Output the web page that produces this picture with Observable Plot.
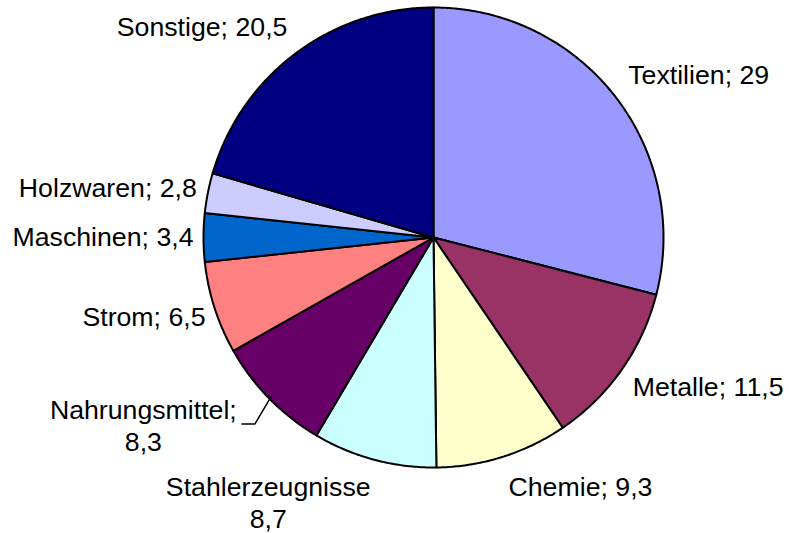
<!DOCTYPE html>
<html>
<head>
<meta charset="utf-8">
<script src="https://cdn.jsdelivr.net/npm/d3@7"></script>
<script src="https://cdn.jsdelivr.net/npm/@observablehq/plot@0.6"></script>
<style>
  html, body { margin: 0; padding: 0; background: #fff; }
  svg { display: block; }
</style>
</head>
<body>
<div id="chart"></div>
<script>
const categories = ["Textilien", "Metalle", "Chemie", "Stahlerzeugnisse", "Nahrungsmittel", "Strom", "Maschinen", "Holzwaren", "Sonstige"];
const values = [29, 11.5, 9.3, 8.7, 8.3, 6.5, 3.4, 2.8, 20.5];
const colors = ["#9999FF", "#993366", "#FFFFCC", "#CCFFFF", "#660066", "#FF8080", "#0066CC", "#CCCCFF", "#000080"];
const labelTexts = ["Textilien; 29", "Metalle; 11,5", "Chemie; 9,3", "Stahlerzeugnisse\n8,7", "Nahrungsmittel;\n8,3", "Strom; 6,5", "Maschinen; 3,4", "Holzwaren; 2,8", "Sonstige; 20,5"];

// layout (pixel offsets from slice edge at mid-angle), kept apart from data
const labelLayout = [
  {anchor: "start", dx: 13, dy: -13},
  {anchor: "start", dx: 11, dy: 26},
  {anchor: "start", dx: 6, dy: 39},
  {anchor: "middle", dx: -106, dy: 68},
  {anchor: "middle", dx: -126, dy: 52},
  {anchor: "end", dx: -9, dy: 18},
  {anchor: "end", dx: -10, dy: 8},
  {anchor: "end", dx: -11, dy: 4},
  {anchor: "end", dx: -8, dy: -18}
];

const R = 230; // pixel radius, used to convert px offsets to data units
const pie = d3.pie().sort(null).value(d => d.value)(categories.map((name, i) => ({name, value: values[i]})));

const slicePts = [];
pie.forEach(a => {
  const name = a.data.name;
  slicePts.push({name, x: 0, y: 0});
  const n = Math.max(2, Math.ceil((a.endAngle - a.startAngle) / (Math.PI / 360)));
  for (let k = 0; k <= n; k++) {
    const t = a.startAngle + (a.endAngle - a.startAngle) * k / n;
    slicePts.push({name, x: Math.sin(t), y: Math.cos(t)});
  }
  slicePts.push({name, x: 0, y: 0});
});

const labels = pie.map((a, i) => {
  const m = (a.startAngle + a.endAngle) / 2;
  return {text: labelTexts[i], x: Math.sin(m), y: Math.cos(m), ...labelLayout[i]};
});

// leader line for Nahrungsmittel
const ni = categories.indexOf("Nahrungsmittel");
const nm = (pie[ni].startAngle + pie[ni].endAngle) / 2;
const ex = Math.sin(nm) * 0.99, ey = Math.cos(nm) * 0.99;
const leader = [
  {x: ex, y: ey},
  {x: ex - 16 / R, y: ey - 27 / R},
  {x: ex - 29 / R, y: ey - 27 / R}
];

const chart = Plot.plot({
  width: 789,
  height: 533,
  marginLeft: 203,
  marginRight: 126,
  marginTop: 7,
  marginBottom: 66,
  x: {domain: [-1, 1], axis: null},
  y: {domain: [-1, 1], axis: null},
  color: {domain: categories, range: colors},
  style: {background: "#fff", fontFamily: "'Liberation Sans', Arial, sans-serif"},
  marks: [
    Plot.line(slicePts, {x: "x", y: "y", z: "name", fill: "name", stroke: "black", strokeWidth: 2, strokeLinejoin: "round", curve: "linear"}),
    Plot.line(leader, {x: "x", y: "y", stroke: "black", strokeWidth: 1.5}),
    ...labels.map(l => Plot.text([l], {
      x: "x", y: "y", text: "text",
      textAnchor: l.anchor, lineAnchor: "bottom", lineHeight: 1.2,
      dx: l.dx, dy: l.dy,
      fontSize: 26.7, fill: "black",
      fontFamily: "'Liberation Sans', Arial, sans-serif"
    }))
  ]
});
document.getElementById("chart").appendChild(chart);
</script>
</body>
</html>
